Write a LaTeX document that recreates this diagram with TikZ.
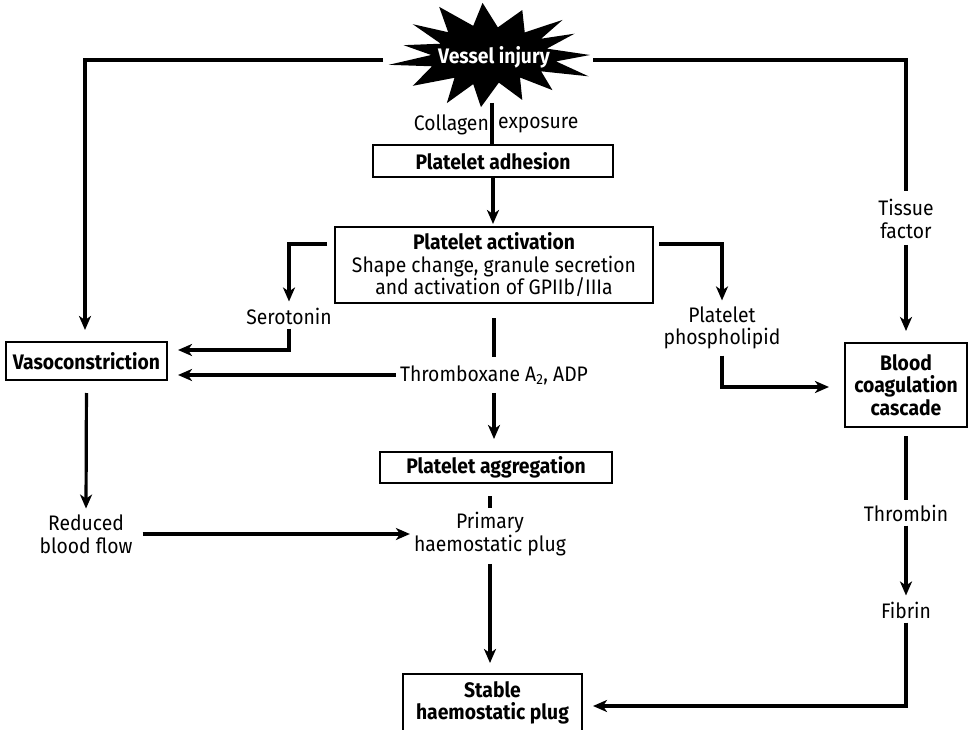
\documentclass[tikz,border=0pt]{standalone}
\usepackage{fontspec}
\setmainfont{Fira Sans}[FakeStretch=0.92]
\usetikzlibrary{arrows.meta,calc}
\tikzset{
  box/.style={draw, line width=2pt, inner sep=0pt, align=center, font=\bfseries},
  lbl/.style={align=center, inner sep=4pt},
  ln/.style={line width=3.2pt},
  arr/.style={ln, -{Stealth[length=14pt,width=12pt,inset=4pt]}},
}
\begin{document}
\begin{tikzpicture}[x=1pt,y=-1pt]
\useasboundingbox (0,0) rectangle (969,730);
\fontsize{21}{22.5}\selectfont
% starburst
\fill[black] plot[samples at={0,12,...,348}, variable=\t]
  ({492+(mod(\t,24)==0 ? 1 : 0.62)*(1+0.09*sin(5*\t))*98*cos(\t)},
   {55+(mod(\t,24)==0 ? 1 : 0.56)*(1+0.09*cos(3*\t))*51*sin(\t)}) -- cycle;
\node[text=white, font=\bfseries, inner sep=0pt] (vi) at (494,57) {Vessel injury};
\coordinate (vil) at (383,60);
\coordinate (vir) at (593,60);
\coordinate (vib) at (492,103);

% boxes
\node[box, minimum width=240, minimum height=32] (adh) at (493,161) {Platelet adhesion};
\node[box, minimum width=318, minimum height=76] (act) at (494,265)
  {Platelet activation\\{\mdseries Shape change, granule secretion}\\{\mdseries and activation of GPIIb/IIIa}};
\node[box, minimum width=161, minimum height=38] (vaso) at (86.5,361) {Vasoconstriction};
\node[box, minimum width=232, minimum height=31] (agg) at (496,467.5) {Platelet aggregation};
\node[box, minimum width=179, minimum height=58] (stable) at (492.5,703) {Stable\\haemostatic plug};
\node[box, minimum width=122, minimum height=84] (coag) at (906,385) {Blood\\coagulation\\cascade};

% labels
\node[lbl, anchor=east, inner sep=0pt] (coll) at (489,125) {Collagen};
\node[lbl, anchor=west, inner sep=0pt] (expo) at (498,125) {exposure};
\node[lbl] (sero) at (289,316) {Serotonin};
\node[lbl] (thx) at (494,375) {Thromboxane A\textsubscript{2}, ADP};
\node[lbl] (phos) at (722,328) {Platelet\\phospholipid};
\node[lbl] (tissue) at (906,219) {Tissue\\factor};
\node[lbl] (reduced) at (86,534) {Reduced\\blood flow};
\node[lbl] (primary) at (490,534) {Primary\\haemostatic plug};
\node[lbl] (thrombin) at (906,513) {Thrombin};
\node[lbl] (fibrin) at (906,610) {Fibrin};

% connectors
\draw[arr, shorten >=11pt] (vil) -| (vaso.north -| 85,0);
\draw[ln, shorten >=4pt] (vir) -| (tissue.north);
\draw[arr, shorten <=2pt, shorten >=11pt] (tissue.south) -- (coag.north -| tissue.south);
\draw[ln] (vib) -- (adh.north -| vib);
\draw[arr, shorten >=2pt] (adh.south) -- (act.north -| adh.south);
\draw[arr, shorten >=2pt] ([yshift=21pt,xshift=-7pt]act.west) -| (sero.north);
\draw[arr, shorten >=10pt] (sero.south) |- ([yshift=11pt]vaso.east);
\draw[ln, shorten <=14pt, shorten >=4pt] (act.south) -- (thx.north -| act.south);
\draw[arr, shorten <=4pt, shorten >=12pt] (thx.south -| act.south) -- (agg.north -| act.south);
\draw[arr, shorten >=10pt] (thx.west) -- (thx.west -| vaso.east);
\draw[arr, shorten <=12pt, shorten >=2pt] (vaso.south) -- (reduced.north);
\draw[arr, shorten <=6pt] (reduced.east) -- (reduced.east -| primary.west);
\draw[ln, shorten <=12pt] (agg.south -| primary.north) -- (primary.north);
\draw[arr, shorten <=4pt, shorten >=10pt] (primary.south) -- (stable.north -| primary.south);
\draw[arr, shorten >=2pt] ([yshift=21pt,xshift=5pt]act.east) -| (phos.north);
\draw[arr, shorten <=2pt, shorten >=15pt] (phos.south) |- ([yshift=-2pt]coag.west);
\draw[ln, shorten <=8pt] (coag.south) -- (thrombin.north);
\draw[arr, shorten >=2pt] (thrombin.south) -- (fibrin.north);
\draw[arr, shorten >=10pt] (fibrin.south) |- ([yshift=-3pt]stable.east);
\end{tikzpicture}
\end{document}
